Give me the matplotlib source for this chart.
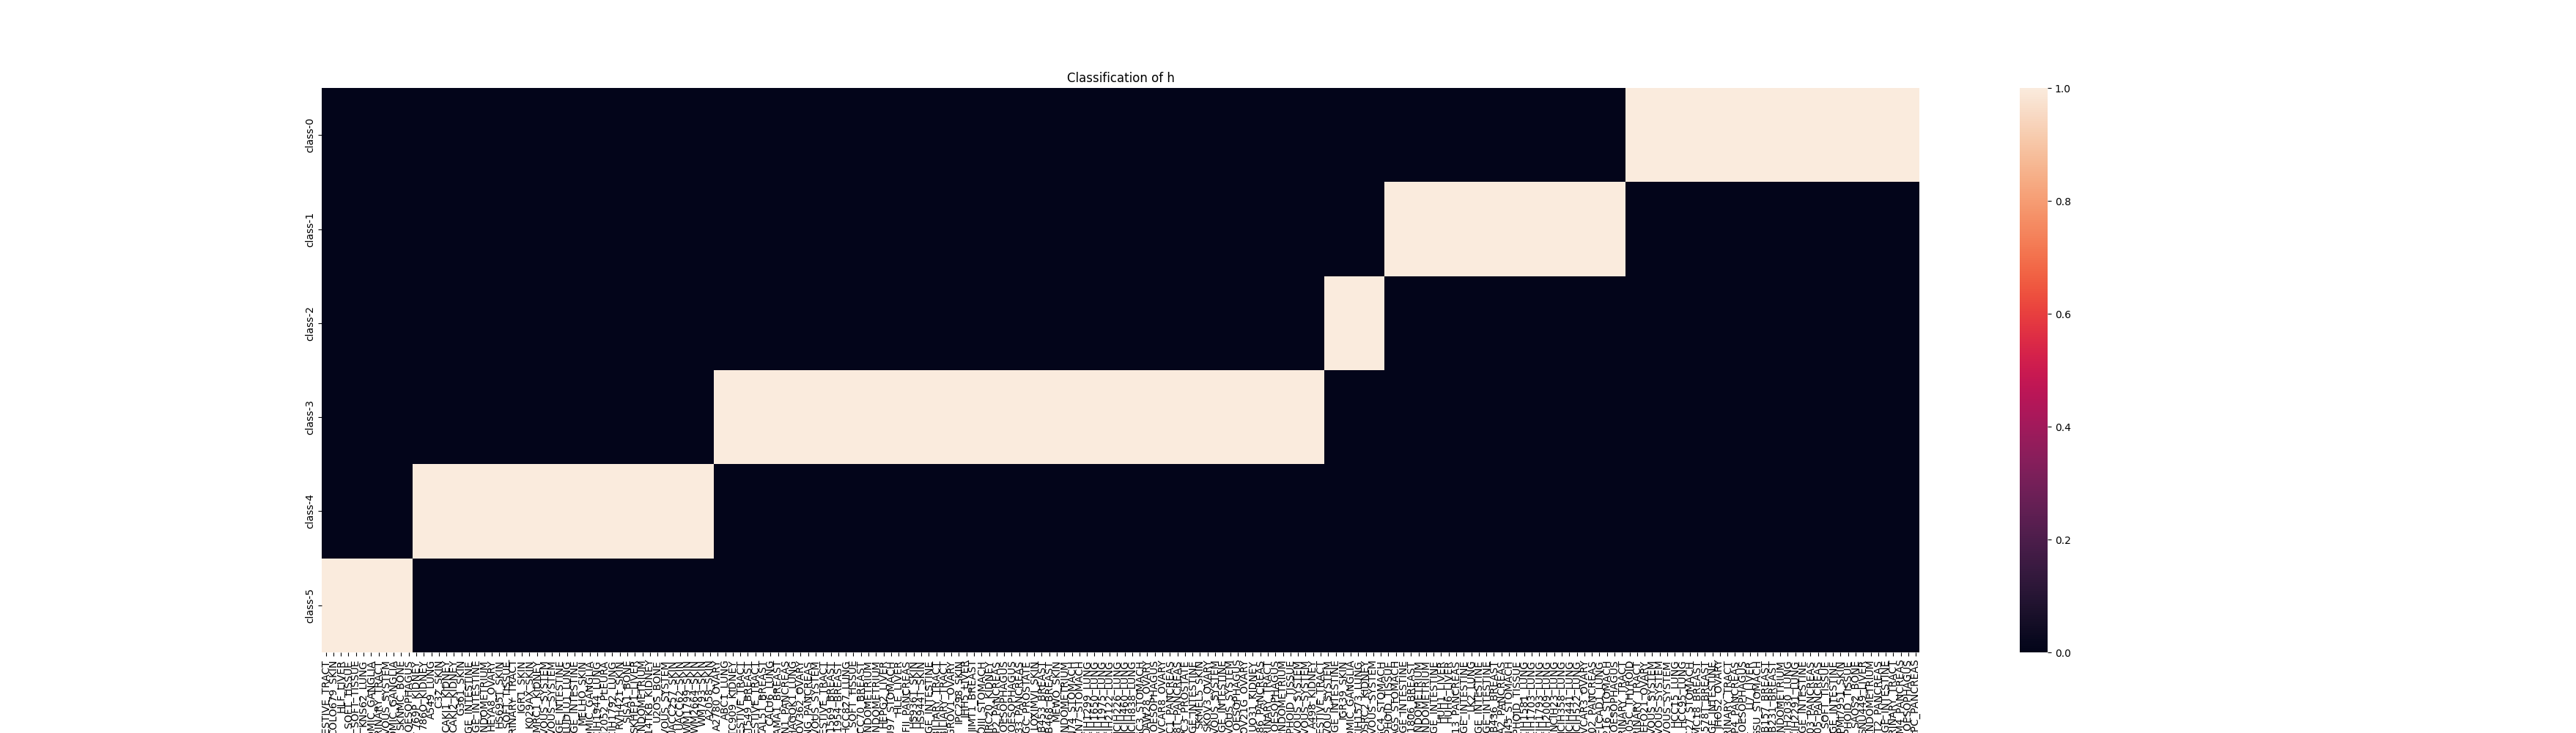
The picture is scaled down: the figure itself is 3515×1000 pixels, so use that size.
import numpy as np
import pandas as pd
import matplotlib
matplotlib.use('Agg')
import matplotlib.pyplot as plt
import seaborn as sns

# row labels of the heatmap
classes = ['class-0', 'class-1', 'class-2', 'class-3', 'class-4', 'class-5']

# cell lines in the order of the columns, grouped by assigned class
class5_lines = ["BICR6_UPPER_AERODIGESTIVE_TRACT", "COLO679_SKIN", "HLF_LIVER", "HT1080_SOFT_TISSUE",
                "A204_SOFT_TISSUE", "KNS62_LUNG", "KELLY_AUTONOMIC_GANGLIA", "UMUC3_URINARY_TRACT",
                "SF295_CENTRAL_NERVOUS_SYSTEM", "SKNAS_AUTONOMIC_GANGLIA", "SKNMC_BONE", "KYSE410_OESOPHAGUS"]

class4_lines = ["769P_KIDNEY", "786O_KIDNEY", "A549_LUNG", "C32_SKIN", "CAKI1_KIDNEY", "CAKI2_KIDNEY",
                "G361_SKIN", "HCT116_LARGE_INTESTINE", "SW480_LARGE_INTESTINE", "HEC1B_ENDOMETRIUM",
                "HEYA8_OVARY", "HS695T_SKIN", "HS729_SOFT_TISSUE", "JMSU1_URINARY_TRACT", "IGR1_SKIN",
                "K029AX_SKIN", "KMRC1_KIDNEY", "LN18_CENTRAL_NERVOUS_SYSTEM", "LN229_CENTRAL_NERVOUS_SYSTEM",
                "LOVO_LARGE_INTESTINE", "LUDLU1_LUNG", "LS180_LARGE_INTESTINE", "MELHO_SKIN",
                "NB1_AUTONOMIC_GANGLIA", "NCIH1944_LUNG", "NCIH2052_PLEURA", "NCIH1792_LUNG", "RVH421_SKIN",
                "SJSA1_BONE", "SKHEP1_LIVER", "SNGM_ENDOMETRIUM", "TUHR14TKB_KIDNEY", "U2OS_BONE",
                "U87MG_CENTRAL_NERVOUS_SYSTEM", "UACC257_SKIN", "UACC62_SKIN", "WM1799_SKIN", "WM2664_SKIN",
                "WM793_SKIN", "A2058_SKIN"]

class3_lines = ["A2780_OVARY", "ABC1_LUNG", "BFTC909_KIDNEY", "BICR22_UPPER_AERODIGESTIVE_TRACT",
                "BT549_BREAST", "BICR56_UPPER_AERODIGESTIVE_TRACT", "CAL51_BREAST", "CALU6_LUNG",
                "CAMA1_BREAST", "CAPAN1_PANCREAS", "CHAGOK1_LUNG", "COV362_OVARY", "DANG_PANCREAS",
                "DBTRG05MG_CENTRAL_NERVOUS_SYSTEM", "DETROIT562_UPPER_AERODIGESTIVE_TRACT", "HCC1569_BREAST",
                "HCC1954_BREAST", "HCC827_LUNG", "SKUT1_SOFT_TISSUE", "HCC70_BREAST", "HEC1A_ENDOMETRIUM",
                "HEC59_ENDOMETRIUM", "HEPG2_LIVER", "FU97_STOMACH", "HLE_LIVER", "HPAFII_PANCREAS",
                "HS936T_SKIN", "HS944T_SKIN", "HT29_LARGE_INTESTINE", "HUCCT1_BILIARY_TRACT",
                "HUH28_BILIARY_TRACT", "IGROV1_OVARY", "IPC298_SKIN", "JHH5_LIVER", "JIMT1_BREAST",
                "KATOIII_STOMACH", "KMRC20_KIDNEY", "KP2_PANCREAS", "KYSE150_OESOPHAGUS", "KYSE30_OESOPHAGUS",
                "L33_PANCREAS", "LNCAPCLONEFGC_PROSTATE", "LOXIMVI_SKIN", "MDAMB453_BREAST", "MDAMB468_BREAST",
                "MEWO_SKIN", "MFE296_ENDOMETRIUM", "MKN74_STOMACH", "MKN7_STOMACH", "NCIH1299_LUNG",
                "NCIH1650_LUNG", "NCIH1975_LUNG", "NCIH2122_LUNG", "NCIH226_LUNG", "NCIH460_LUNG",
                "NCIH838_LUNG", "NUGC3_STOMACH", "OAW28_OVARY", "OE33_OESOPHAGUS", "OVCAR8_OVARY",
                "PANC1_PANCREAS", "PATU8988T_PANCREAS", "PC3_PROSTATE", "RKO_LARGE_INTESTINE", "SKMEL5_SKIN",
                "SKOV3_OVARY", "SW1088_CENTRAL_NERVOUS_SYSTEM", "SW620_LARGE_INTESTINE",
                "T98G_CENTRAL_NERVOUS_SYSTEM", "TE10_OESOPHAGUS", "TOV21G_OVARY", "UO31_KIDNEY",
                "SU8686_PANCREAS", "RT4_URINARY_TRACT", "OE19_OESOPHAGUS", "AN3CA_ENDOMETRIUM",
                "SUDHL4_HAEMATOPOIETIC_AND_LYMPHOID_TISSUE", "SF268_CENTRAL_NERVOUS_SYSTEM",
                "SNB75_CENTRAL_NERVOUS_SYSTEM", "A498_KIDNEY", "SCC9_UPPER_AERODIGESTIVE_TRACT"]

class2_lines = ["GAMG_CENTRAL_NERVOUS_SYSTEM", "COLO320_LARGE_INTESTINE", "IGR39_SKIN",
                "CHP212_AUTONOMIC_GANGLIA", "NCIH1573_LUNG", "OSRC2_KIDNEY", "YKG1_CENTRAL_NERVOUS_SYSTEM",
                "NUGC4_STOMACH"]

class1_lines = ["KARPAS299_HAEMATOPOIETIC_AND_LYMPHOID_TISSUE", "AGS_STOMACH", "CL11_LARGE_INTESTINE",
                "HCC1806_BREAST", "HEC151_ENDOMETRIUM", "HEC265_ENDOMETRIUM", "HT115_LARGE_INTESTINE",
                "HUH1_LIVER", "HUH6_LIVER", "PANC0213_PANCREAS", "LS1034_LARGE_INTESTINE", "LK2_LUNG",
                "LS411N_LARGE_INTESTINE", "MDST8_LARGE_INTESTINE", "MDAMB436_BREAST", "MIAPACA2_PANCREAS",
                "MKN45_STOMACH", "MOLM13_HAEMATOPOIETIC_AND_LYMPHOID_TISSUE", "NCIH1581_LUNG", "NCIH1703_LUNG",
                "NCIH1793_LUNG", "NCIH2009_LUNG", "NCIH23_LUNG", "NCIH358_LUNG", "NCIH441_LUNG", "NCIH522_LUNG",
                "OVCAR3_OVARY", "PATU8902_PANCREAS", "RERFLCAD1_LUNG", "SNU216_STOMACH", "KYSE510_OESOPHAGUS",
                "UMUC1_URINARY_TRACT"]

class0_lines = ["8505C_THYROID", "5637_URINARY_TRACT", "EFO21_OVARY", "GB1_CENTRAL_NERVOUS_SYSTEM",
                "GI1_CENTRAL_NERVOUS_SYSTEM", "H4_CENTRAL_NERVOUS_SYSTEM", "HCC15_LUNG", "HCC95_LUNG",
                "HGC27_STOMACH", "HMC18_BREAST", "HS578T_BREAST", "HT55_LARGE_INTESTINE", "JHOS2_OVARY",
                "KMBC2_URINARY_TRACT", "KP4_PANCREAS", "KYSE70_OESOPHAGUS", "LI7_LIVER", "GSU_STOMACH",
                "MDAMB157_BREAST", "MDAMB231_BREAST", "MFE319_ENDOMETRIUM", "NCIH2030_LUNG", "NCIH2291_LUNG",
                "NCIH716_LARGE_INTESTINE", "PANC0403_PANCREAS", "PANC1005_PANCREAS", "RH30_SOFT_TISSUE",
                "RCM1_LARGE_INTESTINE", "RPMI7951_SKIN", "RL_HAEMATOPOIETIC_AND_LYMPHOID_TISSUE", "SAOS2_BONE",
                "SNU449_LIVER", "SNU685_ENDOMETRIUM", "SUIT2_PANCREAS", "SW1417_LARGE_INTESTINE",
                "SW780_URINARY_TRACT", "T3M4_PANCREAS", "TE1_OESOPHAGUS", "YAPC_PANCREAS"]

# column order as drawn: class-5 block first, class-0 block last
groups = [(5, class5_lines), (4, class4_lines), (3, class3_lines),
          (2, class2_lines), (1, class1_lines), (0, class0_lines)]

columns = []
assigned = []
for k, lines in groups:
    columns += lines
    assigned += [k] * len(lines)

mat = np.zeros((len(classes), len(columns)))
for j, k in enumerate(assigned):
    mat[k, j] = 1
df = pd.DataFrame(mat, index=classes, columns=columns)

plt.figure(figsize=(35.16, 10))
ax = sns.heatmap(df, xticklabels=True, yticklabels=True)
ax.set_title('Classification of h')
plt.savefig('out.png', dpi=100)
